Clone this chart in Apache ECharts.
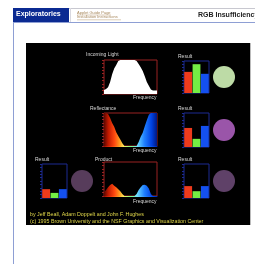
<!DOCTYPE html>
<html>
<head>
<meta charset="utf-8">
<script src="https://cdn.jsdelivr.net/npm/echarts@6/dist/echarts.min.js"></script>
<style>
  html, body { margin: 0; padding: 0; background: #fff; }
  #chart { width: 255px; height: 264px; }
</style>
</head>
<body>
<div id="chart"></div>
<script>
// frequency bins, low (red) to high (blue)
const freqBins = ['1','2','3','4','5','6','7','8','9','10','11','12','13','14','15','16','17','18','19','20','21','22','23','24','25','26','27']

const incomingLight = [0.12, 0.15, 0.2, 0.35, 0.58, 0.75, 0.85, 0.97, 1, 1, 1, 1, 1, 1, 1, 1, 0.97, 0.88, 0.79, 0.68, 0.52, 0.35, 0.24, 0.13, 0.1, 0.1, 0.1]
const reflectance = [1, 1, 0.97, 0.85, 0.7, 0.58, 0.42, 0.3, 0.2, 0.08, 0, 0, 0, 0, 0, 0, 0, 0.12, 0.28, 0.4, 0.6, 0.78, 0.95, 1, 1, 1, 1]
const product = [0.1, 0.18, 0.26, 0.32, 0.36, 0.3, 0.26, 0.2, 0.14, 0.06, 0, 0, 0, 0, 0, 0, 0.06, 0.18, 0.26, 0.32, 0.33, 0.3, 0.22, 0.06, 0, 0, 0]

const rgbLabels = ['R', 'G', 'B']
const lightResult = [0.66, 0.9, 0.6]
const reflectResult = [0.56, 0.24, 0.62]
const productResult = [0.35, 0.2, 0.35]
const mixResult = [0.26, 0.15, 0.26]

const swatchColors = ['#bddba6', '#9a55a9', '#5f4168', '#573c5b']
const barColors = ['#ee3a1c', '#74ee44', '#1450f0']

const spectrumStops = [
  { offset: 0, color: '#5a0800' },
  { offset: 0.08, color: '#c01800' },
  { offset: 0.2, color: '#ff4a10' },
  { offset: 0.3, color: '#ffa020' },
  { offset: 0.38, color: '#fff060' },
  { offset: 0.5, color: '#80ff80' },
  { offset: 0.62, color: '#70e0ff' },
  { offset: 0.76, color: '#2080ff' },
  { offset: 0.9, color: '#0040e0' },
  { offset: 1, color: '#001880' }
]
const spectrum = () => new echarts.graphic.LinearGradient(0, 0, 1, 0, spectrumStops)

const FONT = 'Liberation Sans'
const chart = echarts.init(document.getElementById('chart'), null, { renderer: 'canvas' })

const specBorder = '#9a2222'
const resBorder = '#1c2a92'
const grids = [
  { left: 104, top: 60, width: 53, height: 34, border: specBorder },
  { left: 104, top: 113, width: 53, height: 33, border: specBorder },
  { left: 104, top: 162, width: 53, height: 34, border: specBorder },
  { left: 184, top: 61, width: 25, height: 32, border: resBorder },
  { left: 184, top: 113, width: 25, height: 34, border: resBorder },
  { left: 184, top: 164, width: 25, height: 34, border: resBorder },
  { left: 42, top: 164, width: 25, height: 34, border: resBorder }
]

const yAxes = grids.map((g, i) => ({
  gridIndex: i,
  type: 'value',
  min: 0,
  max: 1,
  interval: 0.1,
  axisLine: { show: false },
  axisLabel: { show: false },
  splitLine: { show: false },
  axisTick: { show: true, length: 2, lineStyle: { color: g.border, width: 1 } }
}))

const xAxes = grids.map((g, i) => {
  const spec = i < 3
  return {
    gridIndex: i,
    type: 'category',
    data: spec ? freqBins : rgbLabels,
    boundaryGap: !spec,
    position: 'top',
    offset: 1,
    axisLine: { show: i === 1 || i === 2, lineStyle: { color: spectrum(), width: 1 } },
    axisTick: { show: false },
    axisLabel: { show: false },
    splitLine: { show: false }
  }
})

const areaSeries = (data, idx, color) => ({
  type: 'line',
  xAxisIndex: idx,
  yAxisIndex: idx,
  data: data,
  symbol: 'none',
  lineStyle: { width: 0 },
  areaStyle: { color: color, opacity: 1 },
  silent: true
})

const barSeries = (data, idx) => ({
  type: 'bar',
  xAxisIndex: idx,
  yAxisIndex: idx,
  barCategoryGap: '6%',
  data: data.map((v, k) => ({ value: v, itemStyle: { color: barColors[k] } })),
  silent: true
})

const label = (text, x, y, opts) => Object.assign({
  type: 'text',
  left: x,
  top: y,
  style: { text: text, fill: '#d8d8d8', font: '5px "' + FONT + '"' }
}, opts || {})

const swatch = (cx, cy, color) => ({
  type: 'circle',
  shape: { cx: cx, cy: cy, r: 11 },
  style: { fill: color }
})

const option = {
  animation: false,
  backgroundColor: '#ffffff',
  grid: grids.map((g) => ({
    left: g.left, top: g.top, width: g.width, height: g.height,
    show: true, borderColor: g.border, borderWidth: 1, backgroundColor: '#000'
  })),
  xAxis: xAxes,
  yAxis: yAxes,
  series: [
    areaSeries(incomingLight, 0, '#ffffff'),
    areaSeries(reflectance, 1, spectrum()),
    areaSeries(product, 2, spectrum()),
    barSeries(lightResult, 3),
    barSeries(reflectResult, 4),
    barSeries(productResult, 5),
    barSeries(mixResult, 6)
  ],
  graphic: [
    // page header
    { type: 'line', z: -10, shape: { x1: 69, y1: 8.5, x2: 255, y2: 8.5 }, style: { stroke: '#c8c8d0', lineWidth: 1 } },
    { type: 'line', z: -10, shape: { x1: 70.5, y1: 8, x2: 70.5, y2: 22 }, style: { stroke: '#d8d8e0', lineWidth: 1 } },
    { type: 'rect', z: -10, shape: { x: 13, y: 8, width: 56, height: 14 }, style: { fill: '#0b2a92' } },
    { type: 'line', z: -10, shape: { x1: 13, y1: 22.5, x2: 255, y2: 22.5 }, style: { stroke: '#8e9fd4', lineWidth: 1 } },
    { type: 'line', z: -10, shape: { x1: 13.5, y1: 22, x2: 13.5, y2: 264 }, style: { stroke: '#8e9fd4', lineWidth: 1 } },
    { type: 'text', left: 16, top: 11, style: { text: 'Exploratories', fill: '#ffffff', font: 'bold 7px "' + FONT + '"' } },
    { type: 'text', left: 77, top: 10.5, style: { text: 'Applet Guide Page', fill: '#a8885c', font: '4px "' + FONT + '"' } },
    { type: 'line', shape: { x1: 77, y1: 15, x2: 111, y2: 15 }, style: { stroke: '#b89a70', lineWidth: 0.5 } },
    { type: 'text', left: 77, top: 15.3, style: { text: 'Installation Instructions', fill: '#a8885c', font: '4px "' + FONT + '"' } },
    { type: 'line', shape: { x1: 77, y1: 19.8, x2: 121, y2: 19.8 }, style: { stroke: '#b89a70', lineWidth: 0.5 } },
    { type: 'text', left: 198, top: 12, style: { text: 'RGB Insufficiency', fill: '#222', font: 'bold 7px "' + FONT + '"' } },
    // applet area
    { type: 'rect', z: -10, shape: { x: 26, y: 43, width: 224, height: 182 }, style: { fill: '#000' } },
    { type: 'line', z: -10, shape: { x1: 250.5, y1: 43, x2: 250.5, y2: 225 }, style: { stroke: '#bbb', lineWidth: 1 } },
    label('Incoming Light', 86, 52),
    label('Frequency', 133, 95.5),
    label('Reflectance', 90, 106),
    label('Frequency', 133, 148.5),
    label('Product', 95, 157),
    label('Frequency', 133, 199.5),
    label('Result', 178, 54),
    label('Result', 178, 106),
    label('Result', 178, 157),
    label('Result', 35, 157),
    swatch(224, 77, swatchColors[0]),
    swatch(224, 130, swatchColors[1]),
    swatch(224, 181, swatchColors[2]),
    swatch(82, 181, swatchColors[3]),
    { type: 'text', left: 30, top: 212, style: { text: 'by Jeff Beall, Adam Doppelt and John F. Hughes', fill: '#e2d84a', font: '5.3px "' + FONT + '"' } },
    { type: 'text', left: 30, top: 219, style: { text: '(c) 1995 Brown University and the NSF Graphics and Visualization Center', fill: '#e2d84a', font: '5.3px "' + FONT + '"' } }
  ]
}

chart.setOption(option)
</script>
</body>
</html>
